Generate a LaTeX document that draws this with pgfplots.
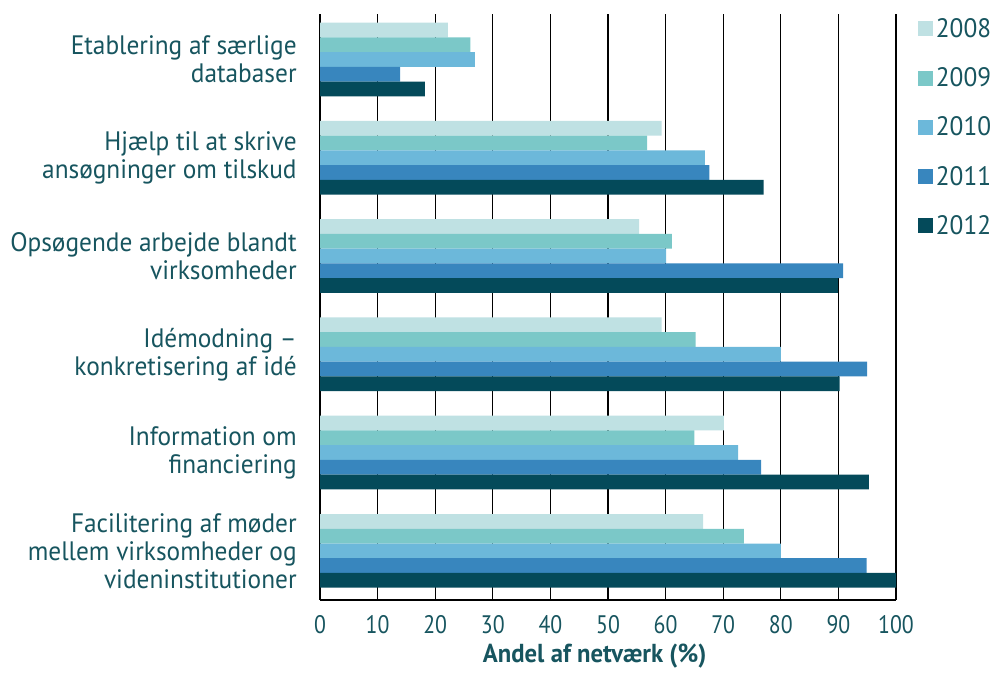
\documentclass[border=0pt]{standalone}
\usepackage{fontspec}
\setmainfont{PT Sans}[FakeStretch=0.95]
\newfontfamily\narrowf{PT Sans}[FakeStretch=0.86]
\usepackage{pgfplots}
\pgfplotsset{compat=1.18}
\definecolor{c08}{HTML}{BFE1E3}
\definecolor{c09}{HTML}{7BC8C8}
\definecolor{c10}{HTML}{6CB8DA}
\definecolor{c11}{HTML}{3886BE}
\definecolor{c12}{HTML}{044A5A}
\definecolor{txt}{HTML}{17555F}
\begin{document}
\begin{tikzpicture}
\useasboundingbox (0pt,0pt) rectangle (745.5pt,-504.75pt);
\begin{axis}[
  at={(240pt,-450pt)}, anchor=south west,
  width=432pt, height=439.5pt, scale only axis,
  xmin=0, xmax=100, ymin=-0.463, ymax=5.5, y dir=reverse,
  xbar, bar width=0.15,
  ytick={0,...,5},
  yticklabels={{Etablering af særlige\\databaser},
               {Hjælp til at skrive\\ansøgninger om tilskud},
               {Opsøgende arbejde blandt\\virksomheder},
               {Idémodning --\\konkretisering af idé},
               {Information om\\financiering},
               {Facilitering af møder\\mellem virksomheder og\\videninstitutioner}},
  yticklabel style={align=right, font=\fontsize{20}{21}\selectfont, text=txt, xshift=-14pt},
  xtick={0,10,...,100},
  xticklabel style={font=\narrowf\fontsize{19}{21}\selectfont, text=txt, yshift=-8pt},
  /pgf/number format/assume math mode=true,
  xmajorgrids, grid style={black, line width=0.9pt},
  axis x line*=bottom, axis y line*=left,
  axis line style={black, line width=1pt, -},
  major tick length=0pt,
  xlabel={\bfseries Andel af netværk (\%)},
  xlabel style={font=\fontsize{19.5}{21}\selectfont, text=txt, yshift=-3pt, xshift=-10pt, inner sep=1pt},
  legend style={at={(1.038,0.997)}, anchor=north west, draw=none, fill=none,
    font=\fontsize{20}{21}\selectfont, text=txt, row sep=17.2pt,
    inner sep=0pt, outer sep=0pt},
  legend cell align=left,
  legend image code/.code={\fill[#1] (0pt,-5.6pt) rectangle (11.5pt,5.6pt);},
]
\addplot[fill=c08, draw=none, bar shift=-0.3] coordinates {(22.2,0) (59.3,1) (55.4,2) (59.3,3) (70.1,4) (66.5,5)};
\addplot[fill=c09, draw=none, bar shift=-0.15] coordinates {(26.1,0) (56.8,1) (61.1,2) (65.2,3) (65.0,4) (73.6,5)};
\addplot[fill=c10, draw=none, bar shift=0] coordinates {(26.9,0) (66.8,1) (60.1,2) (80.0,3) (72.6,4) (80.0,5)};
\addplot[fill=c11, draw=none, bar shift=0.15] coordinates {(13.9,0) (67.6,1) (90.8,2) (95.0,3) (76.6,4) (94.9,5)};
\addplot[fill=c12, draw=none, bar shift=0.3] coordinates {(18.2,0) (77.0,1) (89.9,2) (90.2,3) (95.3,4) (100,5)};
\legend{2008,2009,2010,2011,2012}
\end{axis}
\end{tikzpicture}
\end{document}
